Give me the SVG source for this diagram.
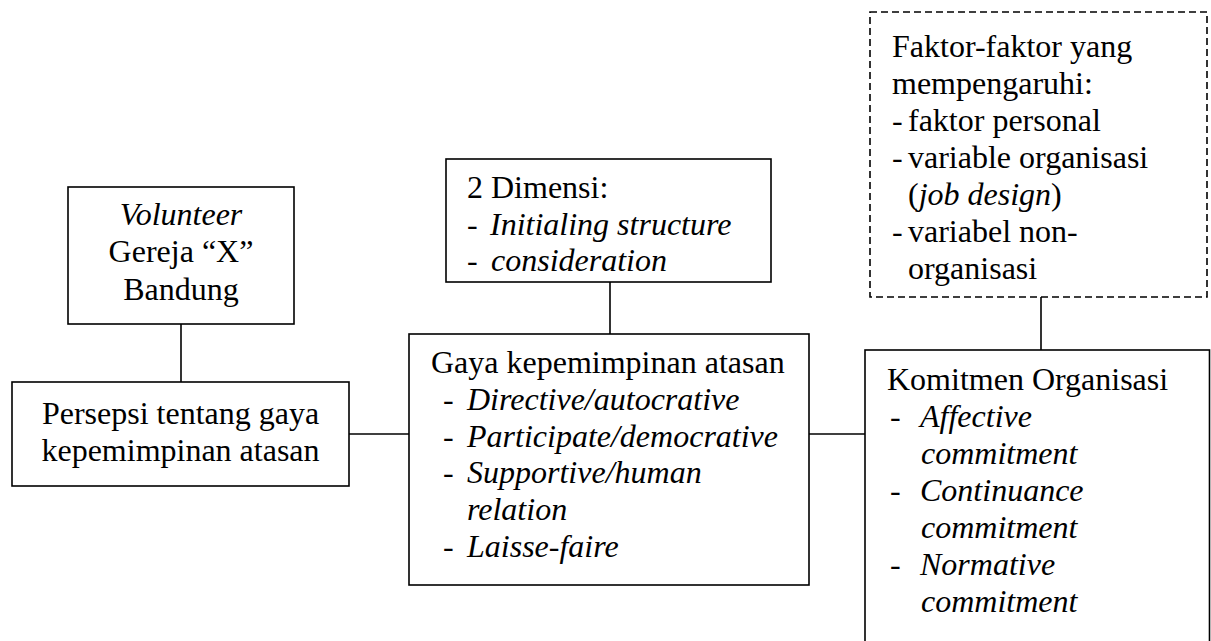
<svg xmlns="http://www.w3.org/2000/svg" width="1211" height="641" viewBox="0 0 1211 641">
<style>
text{font-family:"Liberation Serif","Times New Roman",serif;font-size:32px;fill:#000}
.i{font-style:italic}
.m{text-anchor:middle}
.box{fill:#fff;stroke:#000;stroke-width:1.6}
.dash{fill:#fff;stroke:#000;stroke-width:1.6;stroke-dasharray:7 4}
.ln{stroke:#000;stroke-width:1.6;fill:none}
</style>
<rect width="1211" height="641" fill="#fff"/>
<g id="connectors">
<line class="ln" x1="181" y1="324" x2="181" y2="382"/>
<line class="ln" x1="610" y1="282" x2="610" y2="334"/>
<line class="ln" x1="349" y1="434" x2="409" y2="434"/>
<line class="ln" x1="809" y1="434" x2="865" y2="434"/>
<line class="ln" x1="1041" y1="297" x2="1041" y2="350"/>
</g>
<g id="volunteer">
<rect class="box" x="68" y="187" width="226" height="137"/>
<text class="m i" x="181" y="225">Volunteer</text>
<text class="m" x="181" y="262">Gereja “X”</text>
<text class="m" x="181" y="300">Bandung</text>
</g>
<g id="persepsi">
<rect class="box" x="12" y="382" width="337" height="104"/>
<text class="m" x="180.5" y="424">Persepsi tentang gaya</text>
<text class="m" x="180.5" y="461">kepemimpinan atasan</text>
</g>
<g id="dimensi">
<rect class="box" x="446" y="159" width="325" height="123"/>
<text x="467" y="198">2 Dimensi:</text>
<text x="467" y="235">-</text><text class="i" x="490" y="235">Initialing structure</text>
<text x="467" y="271">-</text><text class="i" x="491" y="271">consideration</text>
</g>
<g id="gaya">
<rect class="box" x="409" y="334" width="400" height="251"/>
<text x="431" y="373">Gaya kepemimpinan atasan</text>
<text x="443" y="410">-</text><text class="i" x="467" y="410">Directive/autocrative</text>
<text x="443" y="447">-</text><text class="i" x="467" y="447">Participate/democrative</text>
<text x="443" y="483">-</text><text class="i" x="467" y="483">Supportive/human</text>
<text class="i" x="467" y="520">relation</text>
<text x="443" y="557">-</text><text class="i" x="467" y="557">Laisse-faire</text>
</g>
<g id="faktor">
<rect class="dash" x="870" y="12" width="337" height="285"/>
<text x="892" y="57">Faktor-faktor yang</text>
<text x="892" y="94">mempengaruhi:</text>
<text x="892" y="131">-</text><text x="908" y="131">faktor personal</text>
<text x="892" y="168">-</text><text x="908" y="168">variable organisasi</text>
<text x="908" y="205">(<tspan class="i">job design</tspan>)</text>
<text x="892" y="242">-</text><text x="908" y="242">variabel non-</text>
<text x="908" y="279">organisasi</text>
</g>
<g id="komitmen">
<rect class="box" x="865" y="350" width="344.5" height="320"/>
<text x="887" y="390">Komitmen Organisasi</text>
<text x="890" y="427">-</text><text class="i" x="920" y="427">Affective</text>
<text class="i" x="921" y="464">commitment</text>
<text x="890" y="501">-</text><text class="i" x="920" y="501">Continuance</text>
<text class="i" x="921" y="538">commitment</text>
<text x="890" y="575">-</text><text class="i" x="920" y="575">Normative</text>
<text class="i" x="921" y="612">commitment</text>
</g>
</svg>
